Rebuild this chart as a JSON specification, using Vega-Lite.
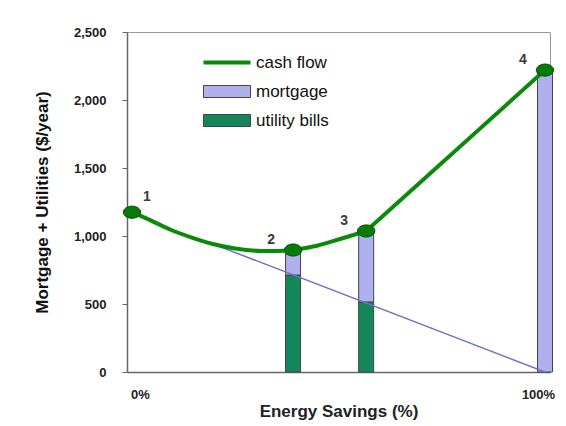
{
  "$schema": "https://vega.github.io/schema/vega-lite/v6.json",
  "width": 423,
  "height": 340,
  "autosize": {"type": "none"},
  "padding": {"left": 127, "top": 32, "right": 16, "bottom": 54},
  "background": "white",
  "config": {"view": {"stroke": "#999", "strokeWidth": 1}, "font": "Liberation Sans"},
  "resolve": {"scale": {"color": "independent"}, "legend": {"color": "independent"}},
  "datasets": {
    "bars": [
      {"pct": 39, "series": "utility bills", "amount": 713},
      {"pct": 39, "series": "mortgage", "amount": 184},
      {"pct": 56.7, "series": "utility bills", "amount": 515},
      {"pct": 56.7, "series": "mortgage", "amount": 522},
      {"pct": 100, "series": "mortgage", "amount": 2220}
    ],
    "curve": [
      {"pct": 0, "amount": 1175},
      {"pct": 5, "amount": 1108},
      {"pct": 9.5, "amount": 1044},
      {"pct": 14.5, "amount": 988},
      {"pct": 19.6, "amount": 941},
      {"pct": 25, "amount": 908},
      {"pct": 31.4, "amount": 890},
      {"pct": 35, "amount": 889},
      {"pct": 39, "amount": 897},
      {"pct": 45, "amount": 930},
      {"pct": 50.4, "amount": 978},
      {"pct": 56.7, "amount": 1037}
    ],
    "diag": [
      {"pct": 18, "amount": 960},
      {"pct": 100, "amount": 0}
    ],
    "points": [
      {"pct": 0, "amount": 1175, "label": "1"},
      {"pct": 39, "amount": 897, "label": "2"},
      {"pct": 56.7, "amount": 1037, "label": "3"},
      {"pct": 100, "amount": 2220, "label": "4"}
    ]
  },
  "layer": [
    {
      "data": {"name": "bars"},
      "mark": {"type": "bar", "size": 15, "stroke": "#444", "strokeWidth": 1, "opacity": 1},
      "encoding": {
        "x": {
          "field": "pct", "type": "quantitative",
          "scale": {"domain": [0, 100], "nice": false},
          "axis": {
            "title": "Energy Savings (%)",
            "values": [0, 100],
            "labelExpr": "datum.value + '%'",
            "ticks": false,
            "tickSize": 0,
            "grid": false,
            "labelFlush": false,
            "labelFont": "Liberation Sans",
            "labelFontWeight": "bold",
            "labelFontSize": 13,
            "labelColor": "#222",
            "labelPadding": 16,
            "labelOffset": {"condition": {"test": "datum.value === 0", "value": 8}, "value": -7},
            "domainColor": "#666",
            "domainWidth": 1.5,
            "titleFont": "Liberation Sans",
            "titleFontSize": 17,
            "titleFontWeight": "bold",
            "titleColor": "#222",
            "titlePadding": 2
          }
        },
        "y": {
          "field": "amount", "type": "quantitative", "stack": "zero",
          "scale": {"domain": [0, 2500], "nice": false},
          "axis": {
            "title": "Mortgage + Utilities ($/year)",
            "values": [0, 500, 1000, 1500, 2000, 2500],
            "labelExpr": "format(datum.value, ',.0f')",
            "grid": false,
            "labelFont": "Liberation Sans",
            "labelFontWeight": "bold",
            "labelFontSize": 13,
            "labelColor": "#222",
            "labelPadding": 16,
            "tickSize": 5,
            "tickColor": "#666",
            "domainColor": "#666",
            "domainWidth": 1.5,
            "titleFont": "Liberation Sans Narrow, Liberation Sans",
            "titleFontSize": 17,
            "titleFontWeight": "bold",
            "titleColor": "#111",
            "titlePadding": 22
          }
        },
        "color": {
          "field": "series", "type": "nominal",
          "scale": {"domain": ["mortgage", "utility bills"], "range": ["#b0b0ee", "#13875a"]},
          "legend": {
            "orient": "none",
            "legendX": 74,
            "legendY": 51,
            "title": null,
            "padding": 0,
            "labelFont": "Liberation Sans",
            "labelFontSize": 17,
            "labelColor": "#111",
            "symbolType": "M-3.92,-1H3.92V1H-3.92Z",
            "symbolSize": 144,
            "symbolOffset": 17.5,
            "symbolStrokeColor": "#444",
            "symbolStrokeWidth": 1,
            "symbolOpacity": 1,
            "labelOffset": 20.5,
            "rowPadding": 11
          }
        },
        "order": {"field": "series", "sort": "descending"}
      }
    },
    {
      "data": {"name": "diag"},
      "mark": {"type": "line", "color": "#7070c8", "strokeWidth": 1.5},
      "encoding": {
        "x": {"field": "pct", "type": "quantitative"},
        "y": {"field": "amount", "type": "quantitative"}
      }
    },
    {
      "data": {"name": "curve"},
      "mark": {"type": "line", "interpolate": "monotone", "strokeWidth": 4},
      "encoding": {
        "x": {"field": "pct", "type": "quantitative"},
        "y": {"field": "amount", "type": "quantitative"},
        "color": {
          "datum": "cash flow", "type": "nominal",
          "scale": {"domain": ["cash flow"], "range": ["#0a8a0a"]},
          "legend": {
            "orient": "none",
            "legendX": 74,
            "legendY": 22,
            "title": null,
            "padding": 0,
            "labelFont": "Liberation Sans",
            "labelFontSize": 17,
            "labelColor": "#111",
            "symbolType": "M-3.92,0H3.92",
            "symbolSize": 144,
            "symbolOffset": 17.5,
            "symbolStrokeWidth": 4,
            "labelOffset": 20.5
          }
        }
      }
    },
    {
      "data": {"name": "points"},
      "transform": [{"filter": "datum.label === '3' || datum.label === '4'"}],
      "mark": {"type": "line", "strokeWidth": 4, "color": "#0a8a0a"},
      "encoding": {
        "x": {"field": "pct", "type": "quantitative"},
        "y": {"field": "amount", "type": "quantitative"}
      }
    },
    {
      "data": {"name": "points"},
      "mark": {"type": "point", "filled": true, "shape": "M-1,0A1,0.7,0,1,0,1,0A1,0.7,0,1,0,-1,0Z", "size": 300, "fill": "#077a07", "stroke": "#045004", "strokeWidth": 1, "opacity": 1},
      "encoding": {
        "x": {"field": "pct", "type": "quantitative"},
        "y": {"field": "amount", "type": "quantitative"}
      }
    },
    {
      "data": {"name": "points"},
      "transform": [{"filter": "datum.label === '1'"}],
      "mark": {"type": "text", "font": "Liberation Sans", "fontWeight": "bold", "fontSize": 14, "color": "#3a3a3a", "dx": 15, "dy": -15},
      "encoding": {
        "x": {"field": "pct", "type": "quantitative"},
        "y": {"field": "amount", "type": "quantitative"},
        "text": {"field": "label"}
      }
    },
    {
      "data": {"name": "points"},
      "transform": [{"filter": "datum.label !== '1'"}],
      "mark": {"type": "text", "font": "Liberation Sans", "fontWeight": "bold", "fontSize": 14, "color": "#3a3a3a", "dx": -22, "dy": -10},
      "encoding": {
        "x": {"field": "pct", "type": "quantitative"},
        "y": {"field": "amount", "type": "quantitative"},
        "text": {"field": "label"}
      }
    }
  ]
}
